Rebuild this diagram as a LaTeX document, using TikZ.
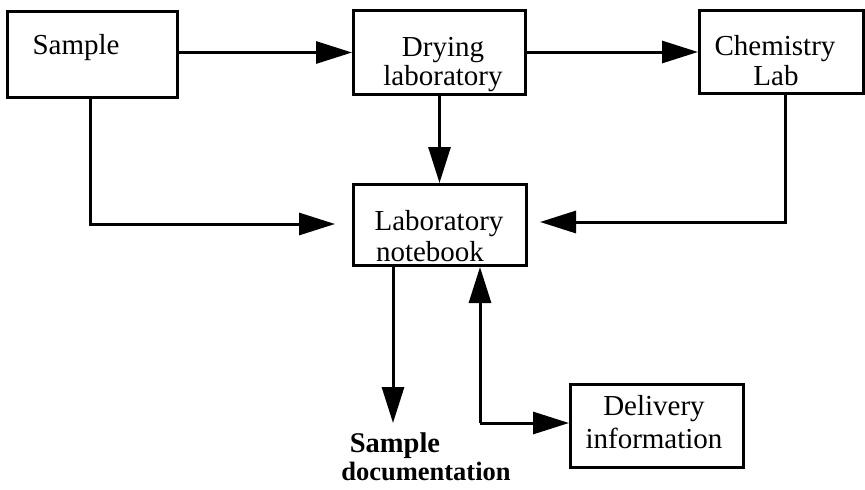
\documentclass[tikz,border=0pt]{standalone}
\usepackage{fontspec}
\setmainfont{Liberation Serif}
\usetikzlibrary{arrows.meta}
\begin{document}
\begin{tikzpicture}[x=1pt,y=-1pt,
  box/.style={draw,line width=3pt,inner sep=0pt,anchor=north west},
  txt/.style={anchor=base,inner sep=0pt,font=\fontsize{29}{30}\selectfont},
  btxt/.style={anchor=base,inner sep=0pt,font=\fontsize{26.5}{30}\selectfont\bfseries},
  conn/.style={line width=3pt,-{Triangle[length=36pt,width=22pt]}}]
\useasboundingbox (0,0) rectangle (865,490);
% boxes
\node[box,minimum width=170pt,minimum height=86pt] (sample) at (6,10) {};
\node[box,minimum width=172pt,minimum height=84pt] (drying) at (352,9) {};
\node[box,minimum width=164pt,minimum height=83pt] (chem) at (698,9) {};
\node[box,minimum width=173pt,minimum height=81pt] (notebook) at (352,183) {};
\node[box,minimum width=173pt,minimum height=83pt] (delivery) at (569,383) {};
% texts
\node[txt] (tSample) at (76,54) {Sample};
\node[txt] (tDry1) at (443,56) {Drying};
\node[txt] (tDry2) at (443,85) {laboratory};
\node[txt] (tChem1) at (775,55) {Chemistry};
\node[txt] (tChem2) at (776,85) {Lab};
\node[txt] (tNb1) at (439,230) {Laboratory};
\node[txt] (tNb2) at (430,261) {notebook};
\node[txt] (tDel1) at (654,415) {Delivery};
\node[txt] (tDel2) at (654,448) {information};
\node[btxt,font=\fontsize{28.5}{30}\selectfont\bfseries] (tDoc1) at (395,452) {Sample};
\node[btxt] (tDoc2) at (426,480) {documentation};
% coordinates
\coordinate (nbL) at (335,224);
\coordinate (nbR) at (540,222);
\coordinate (cA) at (785,0);
\coordinate (sdoc) at (393,423);
\coordinate (corner) at (480,423);
% connectors
\draw[conn] (sample.east |- drying.west) -- (drying.west);
\draw[conn] (drying.east |- chem.west) -- (chem.west);
\draw[conn] (drying.south) -- (drying.south |- notebook.north);
\draw[conn] (sample.south -| 90,0) |- (nbL);
\draw[conn] (chem.south -| cA) |- (nbR);
\draw[conn] (sdoc |- notebook.south) -- (sdoc);
\draw[conn] (corner) -- (corner |- notebook.south);
\draw[conn] (corner) -- (delivery.west |- corner);
\end{tikzpicture}
\end{document}
